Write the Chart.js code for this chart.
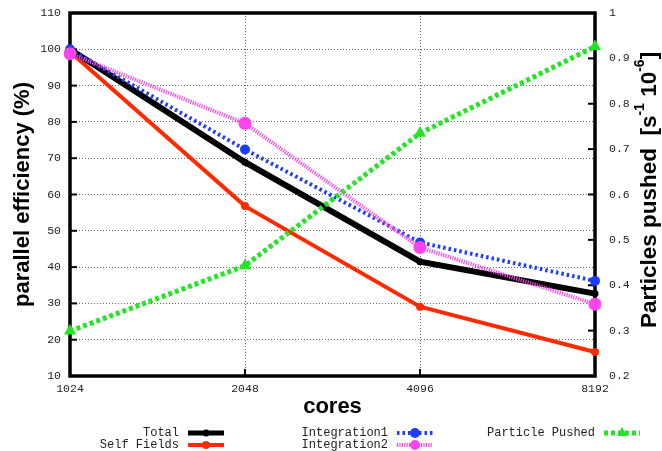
<!DOCTYPE html>
<html>
<head>
<meta charset="utf-8">
<script src="https://cdn.jsdelivr.net/npm/chart.js@4/dist/chart.umd.min.js"></script>
<style>
  html, body { margin: 0; padding: 0; background: #fff; }
  #wrap { width: 662px; height: 451px; }
</style>
</head>
<body>
<div id="wrap"><canvas id="c" width="662" height="451"></canvas></div>
<script>
// ---- data ----
const cores = ['1024', '2048', '4096', '8192'];
const total = [100, 68.9, 41.5, 32.7];
const selfFields = [99.3, 56.8, 29.1, 16.6];
const integration1 = [100, 72.4, 46.8, 36.2];
const integration2 = [98.8, 79.6, 45.4, 29.8];
const particlePushed = [0.299, 0.443, 0.735, 0.926];
const leftTicks = [10, 20, 30, 40, 50, 60, 70, 80, 90, 100, 110];
const rightTicks = [0.2, 0.3, 0.4, 0.5, 0.6, 0.7, 0.8, 0.9, 1];

const TICK_FONT = { family: '"Liberation Mono", "DejaVu Sans Mono", monospace', size: 11.5 };
const TITLE_FONT = '"Liberation Sans", Arial, sans-serif';

const chromePlugin = {
  id: 'chrome',
  beforeDatasetsDraw(chart) {
    const { ctx, chartArea: a, scales } = chart;
    ctx.save();
    ctx.strokeStyle = '#000';
    ctx.lineWidth = 2;
    const seg = (x1, y1, x2, y2) => { ctx.beginPath(); ctx.moveTo(x1, y1); ctx.lineTo(x2, y2); ctx.stroke(); };
    scales.y.ticks.forEach(t => { const y = scales.y.getPixelForValue(t.value); seg(a.left, y, a.left + 7, y); });
    scales.y1.ticks.forEach(t => { const y = scales.y1.getPixelForValue(t.value); seg(a.right - 7, y, a.right, y); });
    scales.x.ticks.forEach((t, i) => { const x = scales.x.getPixelForTick(i); seg(x, a.bottom, x, a.bottom - 7); });
    ctx.lineWidth = 3.5;
    ctx.strokeRect(a.left, a.top, a.right - a.left, a.bottom - a.top);
    ctx.restore();
  },
  afterDraw(chart) {
    const { ctx } = chart;
    // right axis title with superscripts, reading bottom-to-top
    ctx.save();
    ctx.fillStyle = '#000';
    ctx.translate(650, 190);
    ctx.rotate(-Math.PI / 2);
    const big = 'bold 22.5px ' + TITLE_FONT;
    const small = 'bold 14px ' + TITLE_FONT;
    const parts = [
      { t: 'Particles pushed  [s', f: big, dy: 0 },
      { t: '-1', f: small, dy: -10 },
      { t: ' 10', f: big, dy: 0 },
      { t: '-6', f: small, dy: -10 },
      { t: ']', f: big, dy: 0 }
    ];
    let w = 0;
    parts.forEach(p => { ctx.font = p.f; p.w = ctx.measureText(p.t).width; w += p.w; });
    let x = -w / 2;
    ctx.textBaseline = 'middle';
    parts.forEach(p => { ctx.font = p.f; ctx.fillText(p.t, x, p.dy); x += p.w; });
    ctx.restore();

    // legend, gnuplot style: right-aligned label then sample line
    const items = [
      { ds: 0, xEnd: 179, y: 433 },
      { ds: 1, xEnd: 179, y: 445 },
      { ds: 2, xEnd: 388, y: 433 },
      { ds: 3, xEnd: 388, y: 445 },
      { ds: 4, xEnd: 595, y: 433 }
    ];
    ctx.save();
    ctx.font = '12px "Liberation Mono", "DejaVu Sans Mono", monospace';
    ctx.textBaseline = 'middle';
    ctx.textAlign = 'right';
    items.forEach(it => {
      const d = chart.data.datasets[it.ds];
      ctx.fillStyle = '#222';
      ctx.fillText(d.label, it.xEnd, it.y);
      const x1 = it.xEnd + 9, x2 = it.xEnd + 45, y = it.y;
      ctx.strokeStyle = d.borderColor;
      ctx.lineWidth = Math.min(d.borderWidth, 5);
      ctx.setLineDash(d.borderDash || []);
      ctx.beginPath(); ctx.moveTo(x1, y); ctx.lineTo(x2, y); ctx.stroke();
      ctx.setLineDash([]);
      ctx.fillStyle = d.pointBackgroundColor;
      const cx = (x1 + x2) / 2, r = Math.min(d.pointRadius, 5);
      ctx.beginPath();
      if (d.pointStyle === 'triangle') {
        ctx.moveTo(cx, y - r * 1.2); ctx.lineTo(cx + r, y + r * 0.6); ctx.lineTo(cx - r, y + r * 0.6); ctx.closePath();
      } else {
        ctx.arc(cx, y, r, 0, Math.PI * 2);
      }
      ctx.fill();
    });
    ctx.restore();
  }
};

new Chart(document.getElementById('c'), {
  type: 'line',
  data: {
    labels: cores,
    datasets: [
      { label: 'Total', data: total, yAxisID: 'y', borderColor: '#000000', backgroundColor: '#000000',
        borderWidth: 6, pointRadius: 3.5, pointBackgroundColor: '#000000', pointBorderWidth: 0, order: 3 },
      { label: 'Self Fields', data: selfFields, yAxisID: 'y', borderColor: '#ff2a00', backgroundColor: '#ff2a00',
        borderWidth: 4, pointRadius: 4, pointBackgroundColor: '#ff2a00', pointBorderWidth: 0, order: 4 },
      { label: 'Integration1', data: integration1, yAxisID: 'y', borderColor: '#1e3cff', backgroundColor: '#1e3cff',
        borderWidth: 4, borderDash: [2.5, 3], pointRadius: 5, pointBackgroundColor: '#1e3cff', pointBorderWidth: 0, order: 2 },
      { label: 'Integration2', data: integration2, yAxisID: 'y', borderColor: '#ff44ee', backgroundColor: '#ff44ee',
        borderWidth: 4, borderDash: [1.2, 1.2], pointRadius: 6.5, pointBackgroundColor: '#ff44ee', pointBorderWidth: 0, order: 1 },
      { label: 'Particle Pushed', data: particlePushed, yAxisID: 'y1', borderColor: '#22e622', backgroundColor: '#22e622',
        borderWidth: 5, borderDash: [4, 3], pointRadius: 7, pointStyle: 'triangle', pointBackgroundColor: '#22e622', pointBorderWidth: 0, order: 0 }
    ]
  },
  options: {
    responsive: false,
    animation: false,
    devicePixelRatio: 1,
    layout: { padding: { top: 13, left: 0, right: 0, bottom: 31 } },
    elements: { line: { tension: 0, borderCapStyle: 'butt' } },
    plugins: { legend: { display: false }, tooltip: { enabled: false } },
    scales: {
      x: {
        type: 'category',
        offset: false,
        grid: { color: '#666', lineWidth: 1, drawTicks: false },
        border: { display: false, dash: [1, 2] },
        ticks: { font: TICK_FONT, color: '#222', padding: 6, maxRotation: 0 },
        title: { display: true, text: 'cores', font: { family: TITLE_FONT, size: 22, weight: 'bold' }, color: '#000', padding: 0 },
        afterFit(s) { s.height = 44; s.paddingLeft = 0; s.paddingRight = 0; }
      },
      y: {
        position: 'left',
        min: 10, max: 110,
        afterBuildTicks(s) { s.ticks = leftTicks.map(v => ({ value: v })); },
        grid: { color: '#666', lineWidth: 1, drawTicks: false },
        border: { display: false, dash: [1, 2] },
        ticks: { font: TICK_FONT, color: '#222', padding: 9 },
        title: { display: true, text: 'parallel efficiency (%)', font: { family: TITLE_FONT, size: 22, weight: 'bold' }, color: '#000', padding: { top: 10, bottom: 10 } },
        afterFit(s) { s.width = 70; s.paddingTop = 0; s.paddingBottom = 0; }
      },
      y1: {
        position: 'right',
        min: 0.2, max: 1,
        afterBuildTicks(s) { s.ticks = rightTicks.map(v => ({ value: v })); },
        grid: { display: false, drawTicks: false },
        border: { display: false },
        ticks: { font: TICK_FONT, color: '#222', padding: 14, callback: v => String(+v.toFixed(1)) },
        title: { display: false },
        afterFit(s) { s.width = 67; s.paddingTop = 0; s.paddingBottom = 0; }
      }
    }
  },
  plugins: [chromePlugin]
});
</script>
</body>
</html>
